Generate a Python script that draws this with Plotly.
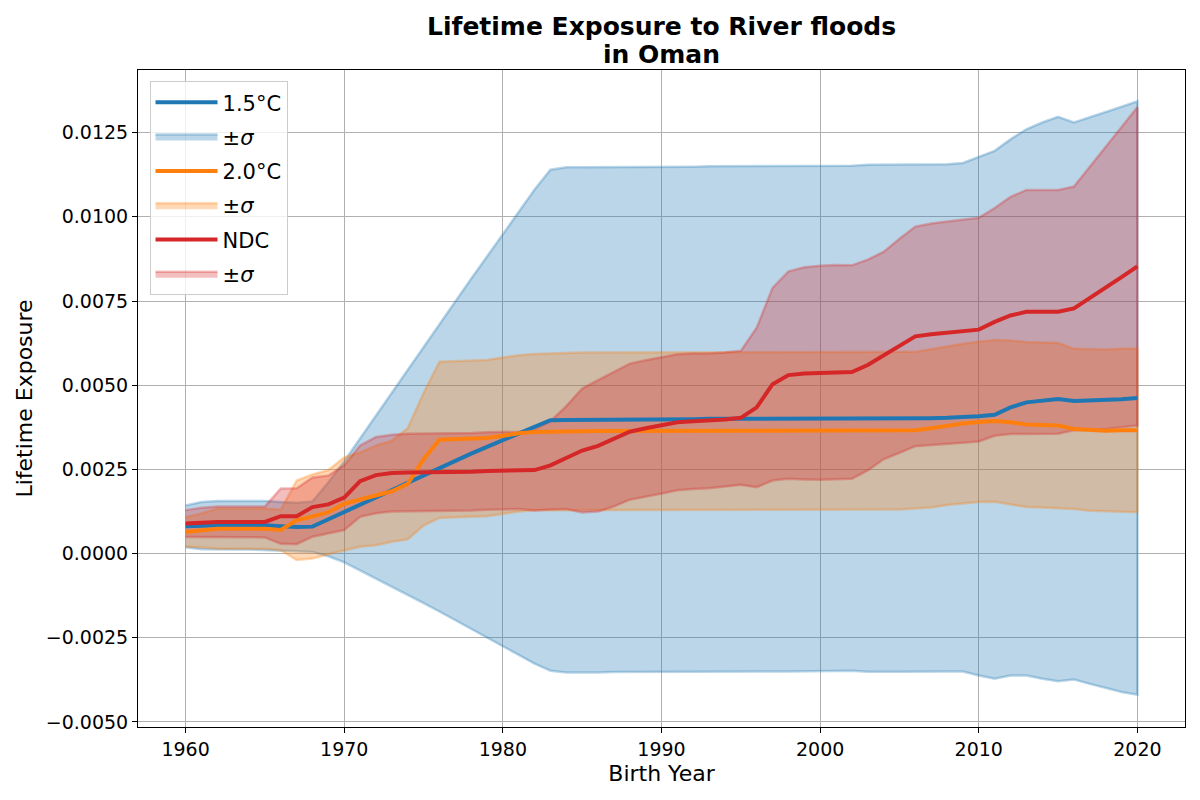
import plotly.graph_objects as go

years = list(range(1960, 2021))

# 1.5°C mean and std
mean_15 = [0.00081, 0.00083, 0.00084, 0.00084, 0.00084, 0.00084, 0.00081, 0.00079, 0.00080, 0.00102,
           0.00124, 0.00146, 0.00168, 0.00190, 0.00212, 0.00234, 0.00255, 0.00276, 0.00297, 0.00317,
           0.00337, 0.00357, 0.00377, 0.00396, 0.00397, 0.00397, 0.00397, 0.00398, 0.00398, 0.00398,
           0.00399, 0.00399, 0.00399, 0.00400, 0.00400, 0.00400, 0.00400, 0.00400, 0.00400, 0.00400,
           0.00401, 0.00401, 0.00402, 0.00402, 0.00402, 0.00402, 0.00402, 0.00402, 0.00403, 0.00405,
           0.00408, 0.00412, 0.00434, 0.00449, 0.00454, 0.00459, 0.00453, 0.00454, 0.00455, 0.00458,
           0.00462]
std_15 = [0.00062, 0.00070, 0.00072, 0.00072, 0.00072, 0.00072, 0.00072, 0.00072, 0.00075, 0.00110,
          0.00150, 0.00196, 0.00242, 0.00288, 0.00335, 0.00381, 0.00427, 0.00473, 0.00519, 0.00565,
          0.00612, 0.00658, 0.00704, 0.00744, 0.00750, 0.00750, 0.00750, 0.00750, 0.00750, 0.00750,
          0.00750, 0.00750, 0.00750, 0.00750, 0.00750, 0.00750, 0.00750, 0.00750, 0.00750, 0.00750,
          0.00750, 0.00750, 0.00750, 0.00753, 0.00753, 0.00753, 0.00753, 0.00753, 0.00753, 0.00755,
          0.00770, 0.00784, 0.00796, 0.00811, 0.00826, 0.00838, 0.00827, 0.00841, 0.00855, 0.00869,
          0.00881]

# 2.0°C mean and std
mean_20 = [0.00064, 0.00069, 0.00074, 0.00074, 0.00074, 0.00074, 0.00070, 0.00099, 0.00110, 0.00123,
           0.00148, 0.00160, 0.00173, 0.00185, 0.00207, 0.00280, 0.00338, 0.00340, 0.00341, 0.00343,
           0.00350, 0.00357, 0.00361, 0.00362, 0.00364, 0.00364, 0.00364, 0.00364, 0.00364, 0.00364,
           0.00364, 0.00364, 0.00364, 0.00364, 0.00364, 0.00364, 0.00364, 0.00364, 0.00364, 0.00364,
           0.00364, 0.00364, 0.00364, 0.00364, 0.00364, 0.00364, 0.00366, 0.00372, 0.00380, 0.00386,
           0.00391, 0.00394, 0.00390, 0.00383, 0.00382, 0.00380, 0.00370, 0.00367, 0.00365, 0.00366,
           0.00366]
std_20 = [0.00044, 0.00050, 0.00060, 0.00060, 0.00060, 0.00060, 0.00060, 0.00118, 0.00125, 0.00125,
          0.00138, 0.00140, 0.00148, 0.00150, 0.00165, 0.00197, 0.00232, 0.00232, 0.00232, 0.00232,
          0.00232, 0.00232, 0.00232, 0.00233, 0.00233, 0.00233, 0.00233, 0.00233, 0.00233, 0.00233,
          0.00233, 0.00233, 0.00233, 0.00233, 0.00233, 0.00233, 0.00233, 0.00233, 0.00233, 0.00233,
          0.00233, 0.00233, 0.00233, 0.00233, 0.00233, 0.00233, 0.00233, 0.00235, 0.00236, 0.00237,
          0.00238, 0.00240, 0.00243, 0.00245, 0.00245, 0.00245, 0.00238, 0.00240, 0.00241, 0.00242,
          0.00243]

# NDC mean and std
mean_ndc = [0.00089, 0.00092, 0.00094, 0.00094, 0.00094, 0.00094, 0.00111, 0.00111, 0.00138, 0.00146,
            0.00166, 0.00215, 0.00233, 0.00239, 0.00241, 0.00241, 0.00242, 0.00242, 0.00243, 0.00245,
            0.00247, 0.00247, 0.00248, 0.00262, 0.00285, 0.00306, 0.00320, 0.00340, 0.00362, 0.00372,
            0.00380, 0.00390, 0.00393, 0.00394, 0.00398, 0.00403, 0.00434, 0.00503, 0.00530, 0.00535,
            0.00537, 0.00539, 0.00539, 0.00560, 0.00588, 0.00617, 0.00645, 0.00651, 0.00656, 0.00660,
            0.00665, 0.00688, 0.00707, 0.00718, 0.00718, 0.00718, 0.00728, 0.00758, 0.00789, 0.00821,
            0.00853]
std_ndc = [0.00040, 0.00044, 0.00046, 0.00046, 0.00046, 0.00046, 0.00082, 0.00083, 0.00088, 0.00086,
           0.00096, 0.00106, 0.00113, 0.00114, 0.00115, 0.00115, 0.00115, 0.00115, 0.00115, 0.00115,
           0.00115, 0.00115, 0.00120, 0.00131, 0.00153, 0.00184, 0.00195, 0.00200, 0.00202, 0.00202,
           0.00202, 0.00202, 0.00201, 0.00200, 0.00199, 0.00199, 0.00237, 0.00286, 0.00308, 0.00315,
           0.00318, 0.00318, 0.00317, 0.00313, 0.00308, 0.00318, 0.00326, 0.00329, 0.00330, 0.00331,
           0.00332, 0.00338, 0.00352, 0.00362, 0.00362, 0.00362, 0.00362, 0.00390, 0.00419, 0.00446,
           0.00473]

y_tickvals = [-0.005, -0.0025, 0.0, 0.0025, 0.005, 0.0075, 0.01, 0.0125]
y_ticktext = ["\u22120.0050", "\u22120.0025", "0.0000", "0.0025", "0.0050", "0.0075", "0.0100", "0.0125"]
x_tickvals = [1960, 1970, 1980, 1990, 2000, 2010, 2020]

title_lines = ["Lifetime Exposure to River floods", "in Oman"]

series = [
    ("1.5°C", mean_15, std_15, (31, 119, 180)),
    ("2.0°C", mean_20, std_20, (255, 127, 14)),
    ("NDC", mean_ndc, std_ndc, (214, 39, 40)),
]

fig = go.Figure()
rank = 1
for name, m, s, (r, g, b) in series:
    upper = [mi + si for mi, si in zip(m, s)]
    lower = [mi - si for mi, si in zip(m, s)]
    fig.add_trace(go.Scatter(
        x=years + years[::-1], y=upper + lower[::-1],
        fill="toself", fillcolor=f"rgba({r},{g},{b},0.3)",
        line=dict(color=f"rgba({r},{g},{b},0.3)", width=2.5),
        mode="lines", name="±<i>σ</i>", legendrank=rank + 1,
        legendgroup=f"g{rank + 1}", hoverinfo="skip"))
    rank += 2

rank = 1
for name, m, s, (r, g, b) in series:
    fig.add_trace(go.Scatter(
        x=years, y=m, mode="lines", name=name,
        line=dict(color=f"rgb({r},{g},{b})", width=4),
        legendrank=rank, legendgroup=f"g{rank}"))
    rank += 2

axis_common = dict(
    showgrid=True, gridcolor="#b0b0b0", gridwidth=0.8,
    showline=True, linecolor="black", linewidth=1, mirror=True,
    ticks="outside", ticklen=5, tickcolor="black",
    tickfont=dict(family="DejaVu Sans", size=19, color="black"),
    zeroline=False, automargin=False,
)

# page body has an 8px margin, so margins are offset to place the plot area
fig.update_layout(
    width=1200, height=800,
    margin=dict(l=130, r=23, t=62, b=81),
    paper_bgcolor="white", plot_bgcolor="white",
    font=dict(family="DejaVu Sans", color="black"),
    xaxis=dict(range=[1957, 2023], tickvals=x_tickvals,
               title=dict(text="Birth Year", font=dict(size=22), standoff=6),
               **axis_common),
    yaxis=dict(range=[-0.00515, 0.01436], tickvals=y_tickvals, ticktext=y_ticktext,
               title=dict(text="Lifetime Exposure", font=dict(size=22), standoff=7),
               **axis_common),
    legend=dict(
        x=0.011, y=0.983, xanchor="left", yanchor="top",
        bgcolor="rgba(255,255,255,0.8)", bordercolor="#cccccc", borderwidth=1,
        font=dict(family="DejaVu Sans", size=21, color="black"),
        traceorder="grouped", tracegroupgap=4, itemwidth=62),
    showlegend=True,
    annotations=[
        dict(text=f"<b>{title_lines[0]}</b>",
             font=dict(family="DejaVu Sans", size=25, color="black"),
             x=0.5, xref="paper", xanchor="center",
             y=1, yref="paper", yanchor="middle", yshift=44, showarrow=False),
        dict(text=f"<b>{title_lines[1]}</b>",
             font=dict(family="DejaVu Sans", size=25, color="black"),
             x=0.5, xref="paper", xanchor="center",
             y=1, yref="paper", yanchor="middle", yshift=16, showarrow=False),
    ],
)

fig.write_html("out.html")
